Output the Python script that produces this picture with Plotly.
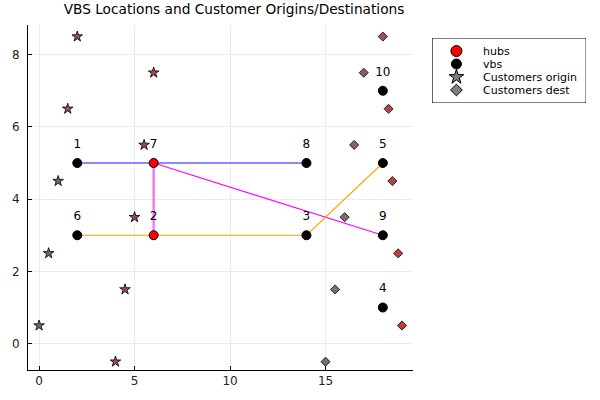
import plotly.graph_objects as go

# VBS nodes
vbs_ids = [1, 2, 3, 4, 5, 6, 7, 8, 9, 10]
vbs_x = [2, 6, 14, 18, 18, 2, 6, 14, 18, 18]
vbs_y = [5, 3, 3, 1, 5, 3, 5, 5, 3, 7]
hub_ids = [2, 7]

# Customers
orig_x = [0, 0.5, 1, 1.5, 2, 4, 4.5, 5, 5.5, 6]
orig_y = [0.5, 2.5, 4.5, 6.5, 8.5, -0.5, 1.5, 3.5, 5.5, 7.5]
orig_colors = ["#6e6a6a", "#746666", "#7a6262", "#825a5a", "#8a5454", "#9a4a4a", "#9a4c4c", "#a04848", "#a44646", "#a84444"]
dest_x = [15, 15.5, 16, 16.5, 17, 18, 18.3, 18.5, 18.8, 19]
dest_y = [-0.5, 1.5, 3.5, 5.5, 7.5, 8.5, 6.5, 4.5, 2.5, 0.5]
dest_colors = ["#707070", "#787070", "#806a6a", "#8a6262", "#925a5a", "#9a5454", "#a44c4c", "#ae4646", "#b84040", "#c03c3c"]

# Routes (sequence of VBS ids)
routes = [
    ([1, 7, 8], "rgba(60,60,255,0.8)", 1.5),
    ([2, 7], "rgba(240,110,240,0.9)", 2.5),
    ([7, 9], "#ff00ff", 1.2),
    ([6, 2, 3, 5], "#ffa500", 1.2),
]

# Legend entries
legend_names = ["hubs", "vbs", "Customers origin", "Customers dest"]
legend_symbols = ["circle", "circle", "star", "diamond"]
legend_colors = ["red", "black", "#808080", "#808080"]
legend_sizes = [11, 10, 11, 9]

fig = go.Figure()

for ids, col, w in routes:
    fig.add_trace(go.Scatter(
        x=[vbs_x[i - 1] for i in ids], y=[vbs_y[i - 1] for i in ids],
        mode="lines", line=dict(color=col, width=w), showlegend=False, hoverinfo="skip"))

fig.add_trace(go.Scatter(x=orig_x, y=orig_y, mode="markers", showlegend=False,
                         marker=dict(symbol="star", size=8, color=orig_colors, opacity=1,
                                     line=dict(color="black", width=0.8))))
fig.add_trace(go.Scatter(x=dest_x, y=dest_y, mode="markers", showlegend=False,
                         marker=dict(symbol="diamond", size=7, color=dest_colors, opacity=1,
                                     line=dict(color="black", width=0.8))))

vbs_only = [i for i in vbs_ids if i not in hub_ids]
fig.add_trace(go.Scatter(x=[vbs_x[i - 1] for i in vbs_only], y=[vbs_y[i - 1] for i in vbs_only],
                         mode="markers", showlegend=False,
                         marker=dict(symbol="circle", size=9, color="black", opacity=1,
                                     line=dict(color="black", width=1))))
fig.add_trace(go.Scatter(x=[vbs_x[i - 1] for i in hub_ids], y=[vbs_y[i - 1] for i in hub_ids],
                         mode="markers", showlegend=False,
                         marker=dict(symbol="circle", size=9, color="red", opacity=1,
                                     line=dict(color="black", width=1))))

# node labels
fig.add_trace(go.Scatter(x=vbs_x, y=[v + 0.5 for v in vbs_y], mode="text",
                         text=[str(i) for i in vbs_ids], textposition="middle center",
                         textfont=dict(size=12, color="black"), showlegend=False, hoverinfo="skip"))

# custom legend drawn on its own small axes
n = len(legend_names)
row_y = [0.8 - k * 0.2 for k in range(n)]
fig.add_trace(go.Scatter(x=[0.158] * n, y=row_y, mode="markers", xaxis="x2", yaxis="y2",
                         showlegend=False, hoverinfo="skip",
                         marker=dict(symbol=legend_symbols, size=legend_sizes, color=legend_colors,
                                     opacity=1, line=dict(color="black", width=1))))
for name, yy in zip(legend_names, row_y):
    fig.add_annotation(x=0.318, y=yy, xref="x2", yref="y2", text=name, showarrow=False,
                       xanchor="left", yanchor="middle", font=dict(size=11, color="black"))
fig.add_shape(type="rect", xref="x2", yref="y2", x0=0, x1=1, y0=0, y1=1,
              line=dict(color="black", width=1), fillcolor="rgba(0,0,0,0)")

fig.update_layout(
    width=600, height=400,
    margin=dict(l=28, r=12, t=25, b=30, autoexpand=False),
    paper_bgcolor="white", plot_bgcolor="white",
    font=dict(family="DejaVu Sans", size=12, color="black"),
    title=dict(text="VBS Locations and Customer Origins/Destinations", x=0.39, xanchor="center",
               xref="container", y=0.978, yanchor="middle", font=dict(size=13.7)),
    showlegend=False,
    xaxis=dict(domain=[0, 0.6875], range=[-0.58, 19.58], tickvals=[0, 5, 10, 15], showgrid=True,
               automargin=False, gridcolor="#ececec", zeroline=False, showline=True,
               linecolor="black", linewidth=1, ticks="inside", ticklen=4, tickcolor="black",
               tickfont=dict(size=12, color="#222")),
    yaxis=dict(range=[-0.73, 8.82], tickvals=[0, 2, 4, 6, 8], showgrid=True, automargin=False,
               gridcolor="#ececec", zeroline=False, showline=True, linecolor="black",
               linewidth=1, ticks="inside", ticklen=4, tickcolor="black",
               ticklabelstandoff=5, tickfont=dict(size=12, color="#222")),
    xaxis2=dict(domain=[0.7216, 0.9966], range=[0, 1], visible=False, anchor="y2", fixedrange=True),
    yaxis2=dict(domain=[0.7739, 0.9623], range=[0, 1], visible=False, anchor="x2", fixedrange=True),
)

fig.write_html("out.html", config={"displayModeBar": False},
               post_script="document.body.style.margin='0';")
